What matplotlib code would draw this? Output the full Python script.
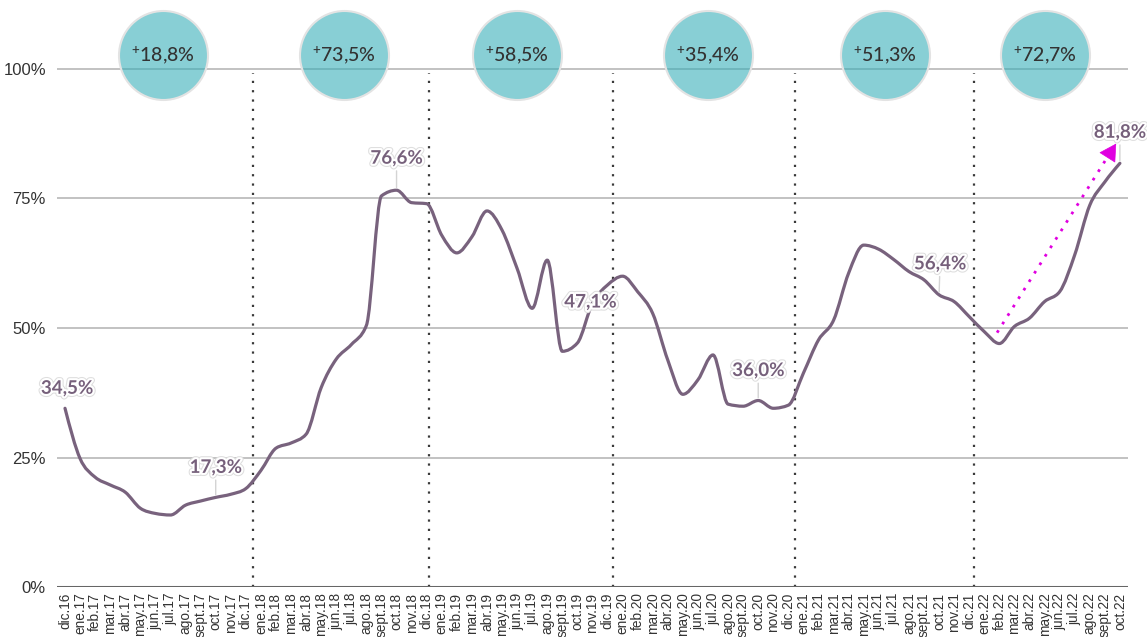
import numpy as np
import matplotlib
matplotlib.use('Agg')
import matplotlib.pyplot as plt
from matplotlib.path import Path
from matplotlib.patches import PathPatch
import matplotlib.patheffects as pe

# ---------------- data ----------------
month_abbr = ['ene', 'feb', 'mar', 'abr', 'may', 'jun', 'jul', 'ago', 'sept', 'oct', 'nov', 'dic']
tick_labels = ['dic.16'] + [f'{m}.{y}' for y in range(17, 23) for m in month_abbr][:70]

values = [34.5, 24.8, 21.2, 19.7, 18.3, 15.2, 14.2, 13.9, 15.8, 16.6,
          17.3, 17.9, 19.0, 22.5, 26.8, 27.8, 29.5, 38.5, 44.0, 46.8,
          50.5, 75.5, 76.6, 74.2, 74.0, 67.9, 64.5, 67.6, 72.6, 68.9,
          61.5, 53.8, 63.1, 45.5, 47.1, 54.8, 58.3, 60.0, 57.0, 52.8,
          43.8, 37.2, 40.0, 44.8, 35.3, 34.9, 36.0, 34.5, 35.1, 41.3,
          47.7, 51.5, 60.6, 66.0, 65.2, 63.2, 60.9, 59.3, 56.4, 55.1,
          52.2, 49.3, 47.0, 50.3, 51.9, 55.1, 57.0, 64.1, 73.7, 78.2,
          81.8]

label_points = [0, 10, 22, 34, 46, 58, 70]
label_texts = ['34,5%', '17,3%', '76,6%', '47,1%', '36,0%', '56,4%', '81,8%']

growth_texts = ['18,8%', '73,5%', '58,5%', '35,4%', '51,3%', '72,7%']
growth_x = [6.5, 18.5, 30.0, 42.7, 54.4, 65.0]

year_breaks = [12.45, 24.15, 36.35, 48.45, 60.35]

arrow_start = (61.85, 49.1)
arrow_end = (69.75, 85.6)

yticks = [0, 25, 50, 75, 100]
ytick_labels = ['0%', '25%', '50%', '75%', '100%']

# ---------------- style ----------------
LINE_C = '#78627d'
LABEL_C = '#76607b'
W, H, DPI = 1147, 637, 100

fig = plt.figure(figsize=(W / DPI, H / DPI), dpi=DPI)
left, right, bottom, top = 57, 1128, 587, 5
ax = fig.add_axes([left / W, (H - bottom) / H, (right - left) / W, (bottom - top) / H])

px_per_pct = (587 - 69) / 100.0
ax.set_ylim(0, (bottom - top) / px_per_pct)
x0 = (left - 65) / 15.07
x1 = (right - 65) / 15.07
ax.set_xlim(x0, x1)

for s in ax.spines.values():
    s.set_visible(False)

# gridlines
for v in yticks[1:]:
    ax.axhline(v, color='#bdbdbd', lw=1.3, zorder=1)
ax.axhline(0, color='#666666', lw=2.2, zorder=3)

ax.set_yticks(yticks)
ax.set_yticklabels(ytick_labels, fontfamily='Liberation Sans', fontsize=12, color='#333333')
ax.tick_params(axis='y', length=0, pad=8)

x = np.arange(len(values))
ax.set_xticks(x)
ax.set_xticklabels(tick_labels, rotation=90, fontfamily='Liberation Sans', fontsize=9.8, color='#333333')
ax.tick_params(axis='x', length=0, pad=4)

# year separators
ax.vlines(year_breaks, 0, 99.2, colors='#3a3a3a', linestyles=(0, (1, 3.2)), lw=1.6, zorder=2)

# smoothed line (monotone-x cubic Bezier, like d3.curveMonotoneX)
xs = x.astype(float)
ys = np.array(values, dtype=float)
n = len(xs)
h = np.diff(xs)
s = np.diff(ys) / h
t = np.zeros(n)
for i in range(1, n - 1):
    s0, s1 = s[i - 1], s[i]
    p = (s0 * h[i] + s1 * h[i - 1]) / (h[i - 1] + h[i])
    t[i] = (np.sign(s0) + np.sign(s1)) * min(abs(s0), abs(s1), 0.5 * abs(p))
t[0] = (3 * s[0] - t[1]) / 2
t[-1] = (3 * s[-1] - t[-2]) / 2
verts = [(xs[0], ys[0])]
codes = [Path.MOVETO]
for i in range(n - 1):
    dx = (xs[i + 1] - xs[i]) / 3
    verts += [(xs[i] + dx, ys[i] + dx * t[i]),
              (xs[i + 1] - dx, ys[i + 1] - dx * t[i + 1]),
              (xs[i + 1], ys[i + 1])]
    codes += [Path.CURVE4] * 3
ax.add_patch(PathPatch(Path(verts, codes), facecolor='none', edgecolor=LINE_C,
                       lw=2.3, zorder=5, capstyle='round', joinstyle='round'))

# data labels
label_offsets = [(2, 20), (0, 30), (0, 32), (13, 41), (0, 30), (1, 31), (0, 31)]
leaders = [False, True, True, False, True, True, True]
halo = [pe.Stroke(linewidth=4.5, foreground='#dedede'),
        pe.Stroke(linewidth=3.0, foreground='white'), pe.Normal()]
for idx, txt, off, ld in zip(label_points, label_texts, label_offsets, leaders):
    ap = None
    if ld:
        ap = dict(arrowstyle='-', color='#d4d4d4', lw=1, shrinkA=1, shrinkB=2)
    a = ax.annotate(txt, xy=(idx, values[idx]), xytext=off, textcoords='offset pixels',
                    ha='center', va='center', fontfamily='Lato', fontweight='bold',
                    fontsize=13.5, color=LABEL_C, zorder=7, arrowprops=ap, annotation_clip=False)
    a.set_path_effects(halo)
    if a.arrow_patch is not None:
        a.arrow_patch.set_path_effects([pe.Normal()])

# growth bubbles
cy = (587 - 55) / px_per_pct
diam_pt = 89 * 72 / DPI
ax.scatter(growth_x, [cy] * len(growth_x), s=diam_pt ** 2,
           facecolors=[(0.20, 0.68, 0.72, 0.58)], edgecolors=[(0.89, 0.89, 0.89, 1)],
           linewidths=1.5, zorder=4, clip_on=False)
for gx, gt in zip(growth_x, growth_texts):
    ax.text(gx, cy, r'$\mathregular{^{+}}$' + gt, ha='center', va='center',
            fontfamily='Lato', fontweight='medium', fontsize=14, color='#333333', zorder=6)

# magenta arrow
ax.plot([arrow_start[0], arrow_end[0] - 0.25], [arrow_start[1], arrow_end[1] - 1.1],
        color='#e000e0', lw=2, linestyle=(0, (1, 2.6)), zorder=6)
ax.annotate('', xy=arrow_end, xytext=(arrow_end[0] - 0.5, arrow_end[1] - 2.3),
            arrowprops=dict(arrowstyle='-|>,head_length=0.8,head_width=0.45', color='#e000e0',
                            lw=0.5, shrinkA=0, shrinkB=0, mutation_scale=14), zorder=6)

fig.savefig('out.png', dpi=DPI)
